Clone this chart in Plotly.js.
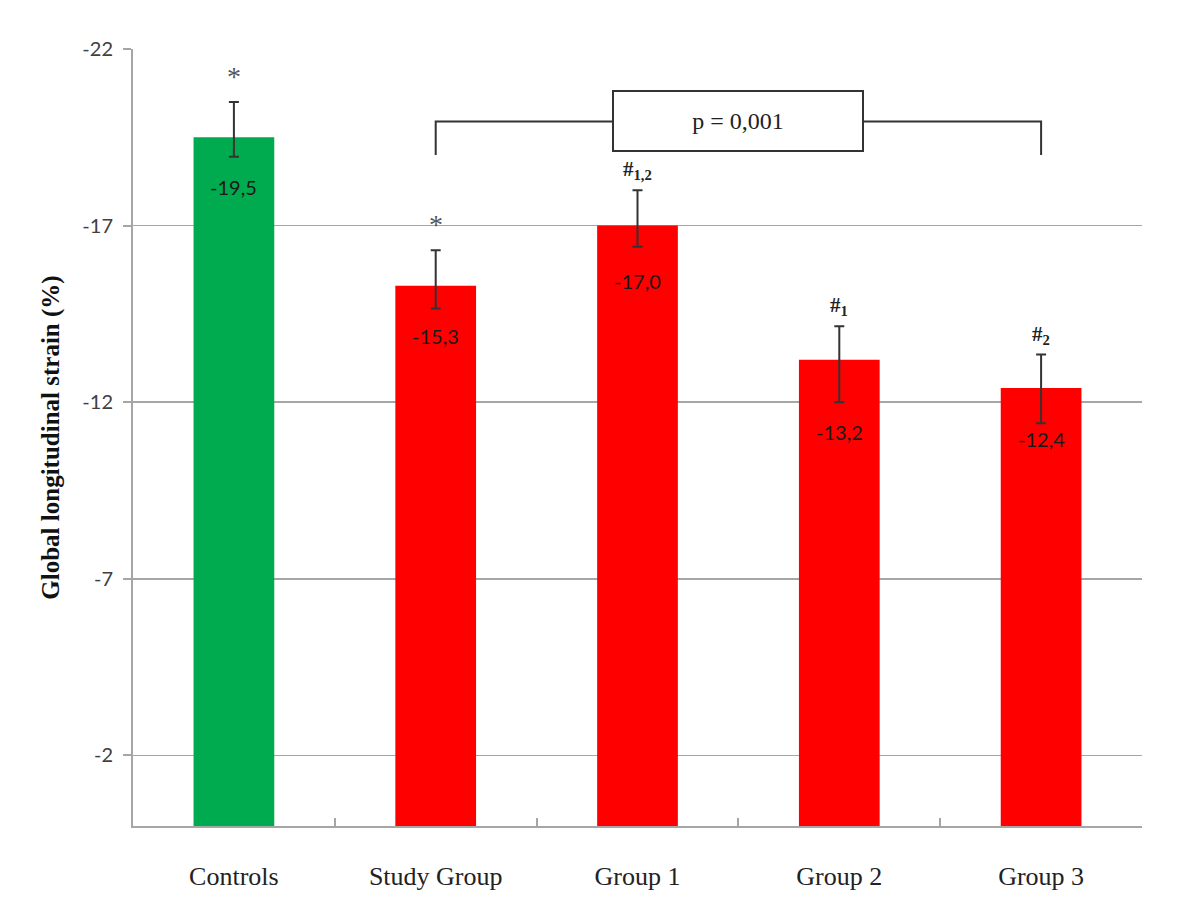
<!DOCTYPE html>
<html>
<head>
<meta charset="utf-8">
<script src="https://cdn.plot.ly/plotly-3.0.1.min.js"></script>
<style>
  html, body { margin: 0; padding: 0; background: #fff; }
  #chart { width: 1200px; height: 909px; }
</style>
</head>
<body>
<div id="chart"></div>
<script>
// Data
const groups = ['Controls', 'Study Group', 'Group 1', 'Group 2', 'Group 3'];
const strain = [-19.5, -15.3, -17.0, -13.2, -12.4];
const errUp = [1.0, 1.0, 1.0, 0.95, 0.95];     // towards more negative (up on the chart)
const errDown = [0.55, 0.65, 0.6, 1.2, 1.0];   // towards zero (down on the chart)
const marks = ['*', '*', '#<sub>1,2</sub>', '#<sub>1</sub>', '#<sub>2</sub>'];
const barColors = ['#00AA4F', '#FF0000', '#FF0000', '#FF0000', '#FF0000'];
const yTicks = [-22, -17, -12, -7, -2];
const pText = 'p = 0,001';

// Styling constants
const labelShift = [-50, -50, -55, -72, -51];
const bracketY = -19.95;
const bracketFoot = -19.0;
const lineCol = '#333333';
const gridCol = '#a6a6a6';

const trace = {
    x: groups,
    y: strain,
    type: 'bar',
    marker: { color: barColors },
    width: 0.4,
    error_y: {
        type: 'data',
        symmetric: false,
        arrayminus: errUp,
        array: errDown,
        color: lineCol,
        thickness: 2,
        width: 5
    },
    hoverinfo: 'x+y'
};

const annotations = [];

groups.forEach((g, i) => {
    // value labels inside the bars
    annotations.push({
        x: g, y: strain[i], xref: 'x', yref: 'y',
        text: strain[i].toFixed(1).replace('.', ','),
        showarrow: false, yanchor: 'middle', yshift: labelShift[i],
        font: { family: 'Lato, sans-serif', size: 20, color: '#1a1a1a' }
    });
    // significance marks above the error bars
    const star = marks[i] === '*';
    annotations.push({
        x: g, y: strain[i] - errUp[i], xref: 'x', yref: 'y',
        text: marks[i],
        showarrow: false, yanchor: 'bottom', yshift: star ? 8 : 5,
        font: star
            ? { family: 'Liberation Serif, serif', size: 28, color: '#555' }
            : { family: 'Liberation Serif, serif', size: 21, color: '#222', weight: 'bold' }
    });
});

// p-value box on the bracket
annotations.push({
    x: 2.5, y: bracketY, xref: 'x', yref: 'y',
    text: pText, showarrow: false,
    width: 246, height: 56, valign: 'middle',
    bgcolor: '#ffffff', bordercolor: lineCol, borderwidth: 2,
    font: { family: 'Liberation Serif, serif', size: 24, color: '#222' }
});

const bracket = {
    type: 'path', xref: 'x', yref: 'y',
    path: `M 1 ${bracketFoot} L 1 ${bracketY} L 4 ${bracketY} L 4 ${bracketFoot}`,
    line: { color: lineCol, width: 2 }
};

const layout = {
    width: 1200,
    height: 909,
    margin: { l: 133, r: 58, t: 49, b: 83 },
    paper_bgcolor: '#ffffff',
    plot_bgcolor: '#ffffff',
    showlegend: false,
    xaxis: {
        type: 'category',
        tickson: 'boundaries',
        ticks: 'inside',
        ticklen: 8,
        tickcolor: gridCol,
        tickwidth: 2,
        showline: true,
        linecolor: gridCol,
        linewidth: 2,
        showgrid: false,
        ticklabelstandoff: 26,
        tickfont: { family: 'Liberation Serif, serif', size: 26, color: '#222' }
    },
    yaxis: {
        range: [0, -22],
        tickvals: yTicks,
        ticktext: yTicks.map(v => String(v)),
        ticks: 'outside',
        ticklen: 8,
        tickcolor: gridCol,
        tickwidth: 2,
        showline: true,
        linecolor: gridCol,
        linewidth: 2,
        showgrid: true,
        gridcolor: gridCol,
        gridwidth: 1.5,
        zeroline: false,
        ticklabelstandoff: 6,
        tickfont: { family: 'Lato, sans-serif', size: 20, color: '#404040' },
        title: {
            text: 'Global longitudinal strain (%)',
            standoff: 16,
            font: { family: 'Liberation Serif, serif', size: 25, color: '#111', weight: 'bold' }
        }
    },
    annotations: annotations,
    shapes: [bracket]
};

Plotly.newPlot('chart', [trace], layout, { displayModeBar: false, staticPlot: true });
</script>
</body>
</html>
